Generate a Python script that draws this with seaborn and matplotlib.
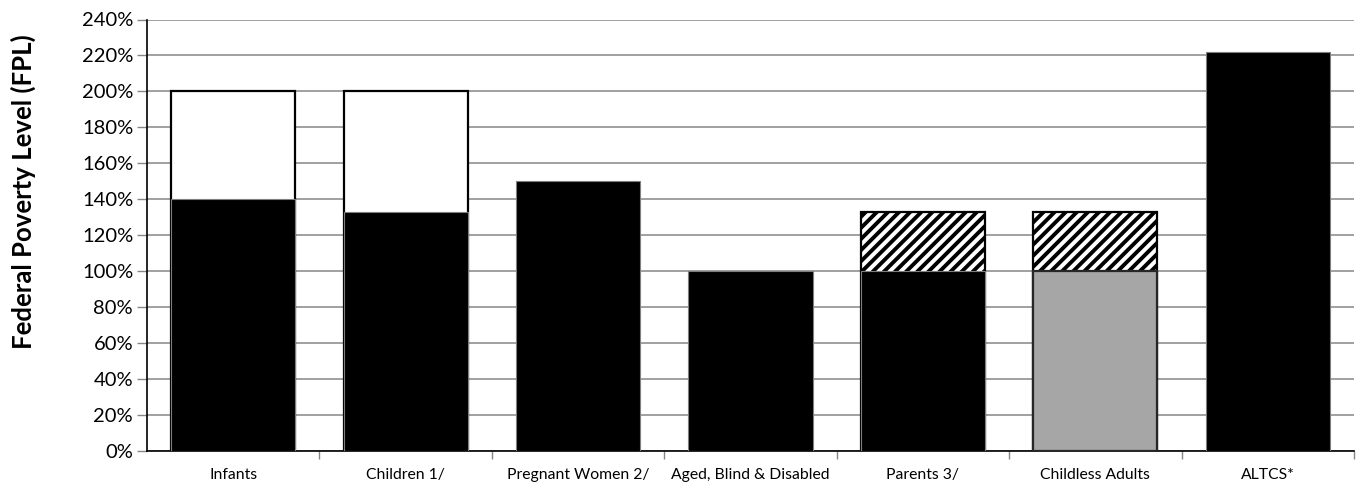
import matplotlib
matplotlib.use("Agg")
import matplotlib.pyplot as plt
import seaborn as sns
import pandas as pd

categories = ["Infants", "Children 1/", "Pregnant Women 2/", "Aged, Blind & Disabled",
              "Parents 3/", "Childless Adults", "ALTCS*"]
base_fpl = [140, 133, 150, 100, 100, 100, 222]
upper_fpl = [200, 200, 0, 0, 133, 133, 0]
base_colors = ["#000000", "#000000", "#000000", "#000000", "#000000", "#a6a6a6", "#000000"]
upper_styles = ["plain", "plain", "none", "none", "hatch", "hatch", "none"]
y_ticks = list(range(0, 241, 20))

sns.set_theme(style="white")
plt.rcParams["font.family"] = ["Lato", "DejaVu Sans"]
plt.rcParams["hatch.linewidth"] = 2.8
plt.rcParams["hatch.color"] = "black"

fig = plt.figure(figsize=(13.59, 4.82), dpi=100)
ax = fig.add_axes([147 / 1359, 1 - 451 / 482, (1354 - 147) / 1359, (451 - 19.5) / 482])

df = pd.DataFrame({"category": categories, "base": base_fpl, "upper": upper_fpl})
order = categories

# upper (expansion) segments first, then the base segments on top
sns.barplot(data=df, x="category", y="upper", order=order, hue="category",
            palette=["white"] * len(categories), legend=False, width=0.72,
            edgecolor="black", linewidth=1.6, ax=ax, zorder=2)
upper_patches = list(ax.patches)
for p, style in zip(upper_patches, upper_styles):
    if style == "hatch":
        p.set_hatch("///")
    elif style == "none":
        p.set_visible(False)

sns.barplot(data=df, x="category", y="base", order=order, hue="category",
            palette=base_colors, legend=False, width=0.72, ax=ax, zorder=3)
base_patches = list(ax.patches)[len(upper_patches):]
for p, c in zip(base_patches, base_colors):
    if c == "#000000":
        p.set_edgecolor("#7f7f7f")
        p.set_linewidth(0.8)
    else:
        p.set_edgecolor("#262626")
        p.set_linewidth(1.6)

ax.set_ylim(0, 240)
ax.set_xlim(-0.5, len(categories) - 0.5)
ax.set_yticks(y_ticks)
ax.set_yticklabels([f"{v}%" for v in y_ticks], fontsize=14.5, color="black")
ax.yaxis.grid(True, color="#868686", linewidth=1.1, zorder=0)
ax.set_axisbelow(True)
ax.tick_params(axis="y", which="major", direction="out", length=7, width=1,
               color="#868686", pad=3, left=True)

ax.set_xticks(range(len(categories)))
ax.set_xticklabels(categories, fontsize=11.3, color="black")
ax.set_xticks([i + 0.5 for i in range(len(categories))], minor=True)
ax.tick_params(axis="x", which="major", length=0, pad=12)
ax.tick_params(axis="x", which="minor", direction="out", length=6, width=1,
               color="#868686", bottom=True)

for side in ["top", "right"]:
    ax.spines[side].set_visible(False)
for side in ["left", "bottom"]:
    ax.spines[side].set_color("black")
    ax.spines[side].set_linewidth(1.2)

ax.set_xlabel("")
ax.set_ylabel("")
fig.text(23 / 1359, 1 - 192 / 482, "Federal Poverty Level (FPL)", rotation=90,
         ha="center", va="center", fontsize=18.5, fontweight="bold", color="black")

fig.savefig("out.png", dpi=100)
